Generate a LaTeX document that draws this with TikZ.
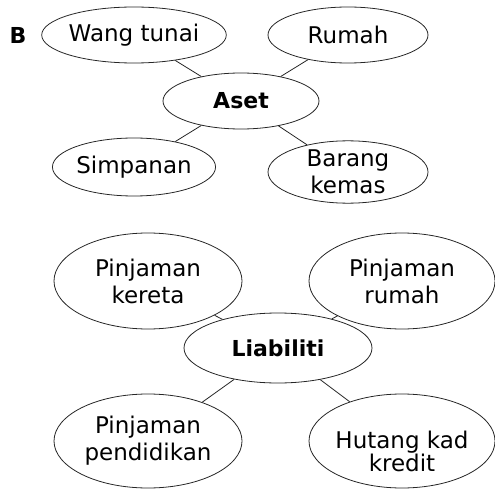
\documentclass[tikz,border=0pt]{standalone}
\usepackage{fontspec}
\setmainfont{DejaVu Sans}
\usetikzlibrary{shapes.geometric}
\begin{document}
\begin{tikzpicture}[x=1pt,y=-1pt,
  txt/.style={inner sep=0pt,align=center,font=\fontsize{23}{27}\selectfont},
  bub/.style={txt,draw=black!85,ellipse,line width=0.8pt},
  bold/.style={font=\bfseries\fontsize{22}{27}\selectfont},
  link/.style={draw=black!85,line width=0.8pt}]
\useasboundingbox (0,0) rectangle (495,489);
\node[bold] (lb) at (18,35) {B};
\node[bub,minimum width=160pt,minimum height=56pt] (wang) at (134,35) {Wang tunai};
\node[bub,minimum width=160pt,minimum height=56pt] (rumah) at (348,35) {Rumah};
\node[bub,bold,minimum width=156pt,minimum height=56pt] (aset) at (241,101) {Aset};
\node[bub,minimum width=160pt,minimum height=58pt] (simp) at (134,167) {Simpanan};
\node[bub,minimum width=160pt,minimum height=60pt] (barang) at (348,172) {Barang\\kemas};
\node[bub,minimum width=188pt,minimum height=96pt] (kereta) at (148,281) {Pinjaman\\kereta};
\node[bub,minimum width=186pt,minimum height=96pt] (prumah) at (402,281) {Pinjaman\\rumah};
\node[bub,bold,minimum width=188pt,minimum height=70pt] (liab) at (278,348) {Liabiliti};
\node[bub,minimum width=188pt,minimum height=94pt] (pend) at (148,441) {Pinjaman\\pendidikan};
\node[bub,minimum width=186pt,minimum height=94pt] (hutang) at (402,441) {};
\node[txt] (hutangt) at (402,451) {Hutang kad\\[-4pt]kredit};
\draw[link] (wang) -- (aset);
\draw[link] (rumah) -- (aset);
\draw[link] (aset) -- (simp);
\draw[link] (aset) -- (barang);
\draw[link] (kereta) -- (liab);
\draw[link] (prumah) -- (liab);
\draw[link] (liab) -- (pend);
\draw[link] (liab) -- (hutang);
\end{tikzpicture}
\end{document}
